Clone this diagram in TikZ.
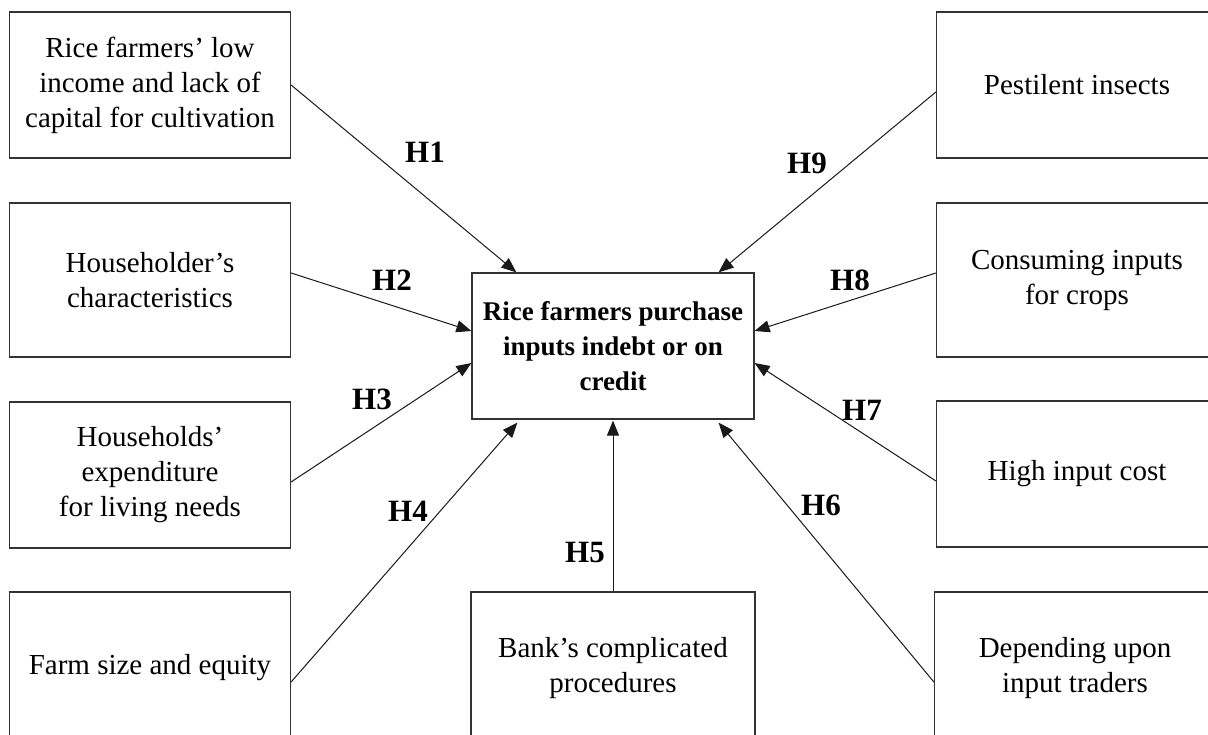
\documentclass[tikz,border=0pt]{standalone}
\usepackage{fontspec}
\setmainfont{Liberation Serif}
\usetikzlibrary{arrows.meta}
\begin{document}
\begin{tikzpicture}[x=1pt,y=-1pt,
  box/.style={draw=black!80,line width=1.2pt,minimum width=281pt,align=center,
    inner sep=0pt,font=\fontsize{29}{35}\selectfont},
  centerbox/.style={box,minimum width=282pt,minimum height=146pt,
    font=\fontsize{27}{35}\selectfont\bfseries},
  hlab/.style={font=\fontsize{31}{31}\selectfont\bfseries,inner sep=0pt},
  conn/.style={line width=1pt,black!90,-{Triangle[length=15pt,width=12pt]}}]
\useasboundingbox (0,0) rectangle (1208,735);
\clip (0,0) rectangle (1208,735);
% boxes
\node[box,minimum height=146pt] (b1) at (150,85) {Rice farmers’ low\\income and lack of\\capital for cultivation};
\node[box,minimum height=154pt] (b2) at (150,280) {Householder’s\\characteristics};
\node[box,minimum height=146pt] (b3) at (150,475) {Households’\\expenditure\\for living needs};
\node[box,minimum height=152pt] (b4) at (150,668) {Farm size and equity};
\node[box,minimum height=146pt] (p) at (1077,85) {Pestilent insects};
\node[box,minimum height=154pt] (cons) at (1077,280) {Consuming inputs\\for crops};
\node[box,minimum height=146pt] (high) at (1077,474) {High input cost};
\node[box,minimum height=152pt] (dep) at (1075,668) {Depending upon\\input traders};
\node[box,minimum width=284pt,minimum height=152pt] (bank) at (613,668) {Bank’s complicated\\procedures};
\node[centerbox] (c) at (613,346) {Rice farmers purchase\\inputs indebt or on\\credit};
% connectors
\draw[conn] (b1.east) -- ([xshift=45pt]c.north west);
\draw[conn] ([yshift=7pt]b2.east) -- ([yshift=15pt]c.west);
\draw[conn] ([yshift=-7pt]b3.east) -- ([yshift=-17pt]c.west);
\draw[conn] ([yshift=-14pt]b4.east) -- ([xshift=46pt,yshift=-3pt]c.south west);
\draw[conn] (bank.north) -- ([yshift=-1pt]c.south);
\draw[conn] ([yshift=-14pt]dep.west) -- ([xshift=-36pt,yshift=-3pt]c.south east);
\draw[conn] ([yshift=-7pt]high.west) -- ([yshift=-17pt]c.east);
\draw[conn] ([yshift=7pt]cons.west) -- ([yshift=15pt]c.east);
\draw[conn] ([yshift=-7pt]p.west) -- ([xshift=-36pt]c.north east);
% labels
\node[hlab] (h1) at (425,152) {H1};
\node[hlab] (h2) at (392,280) {H2};
\node[hlab] (h3) at (372,399) {H3};
\node[hlab] (h4) at (408,511) {H4};
\node[hlab] (h5) at (585,553) {H5};
\node[hlab] (h6) at (821,505) {H6};
\node[hlab] (h7) at (862,410) {H7};
\node[hlab] (h8) at (850,280) {H8};
\node[hlab] (h9) at (807,163) {H9};
\end{tikzpicture}
\end{document}
